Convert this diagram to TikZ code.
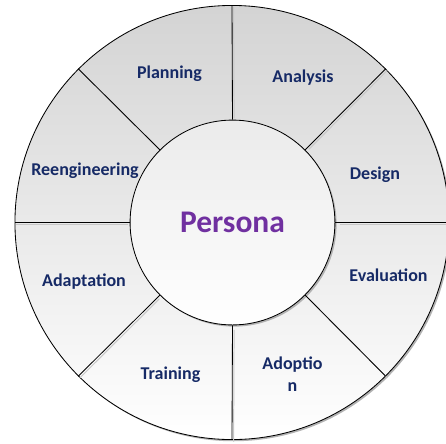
\documentclass[tikz,border=0pt]{standalone}
\usepackage{fontspec}
\setmainfont{Carlito}
\usetikzlibrary{positioning, shadows}
\definecolor{phasenavy}{RGB}{22,42,102}
\definecolor{personapurple}{RGB}{112,48,160}
\tikzset{
x=0.025cm, y=0.025cm, % one unit is one pixel of the sketch
wheel/.style={circle, draw, line width=0.6pt, inner sep=0pt, minimum size=10.85cm, top color=black!17, bottom color=white, drop shadow={shadow xshift=1.2pt, shadow yshift=-1.2pt, fill=black!30, opacity=1}}, % the outer ring
hub/.style={circle, draw, line width=0.6pt, inner sep=0pt, minimum size=5.12cm, top color=black!8, bottom color=white, drop shadow={shadow xshift=1.2pt, shadow yshift=-1.2pt, fill=black!30, opacity=1}}, % the centre disc
divider/.style={line width=0.6pt}, % lines between the phases
dividershade/.style={line width=0.7pt, black!22, shorten <=2pt}, % grey edge beside each line
phase/.style={font=\fontsize{12.8}{15.4}\selectfont\bfseries, text=phasenavy, align=center}, % phase labels
}

\begin{document}
\begin{tikzpicture}
    \useasboundingbox (-232,-220.5) rectangle (214,222.5);
    \node[wheel] (ring) at (0,0) {};
    \node[hub] (persona) at (0.5,0) {\fontsize{22.4}{27}\selectfont\bfseries\color{personapurple}Persona};
    \foreach \a in {0,45,...,315}{
        \draw[dividershade] ([shift={(1.6,-1.6)}]persona.\a) -- ([shift={(1.6,-1.6)}]ring.\a);
        \draw[divider] (persona.\a) -- (ring.\a);
    }
    \node[phase] (planning) at (-62.5,148.5) {Planning};
    \node[phase] (analysis) at (71,144.5) {Analysis};
    \node[phase] (design) at (143,48) {Design};
    \node[phase] (evaluation) at (156.5,-52.5) {Evaluation};
    \node[phase] (adoption) at (60.5,-151.5) {Adoptio\\n};
    \node[phase] (training) at (-61.5,-152.5) {Training};
    \node[phase] (adaptation) at (-148,-59) {Adaptation};
    \node[phase] (reengineering) at (-147,52) {Reengineering};
\end{tikzpicture}
\end{document}
